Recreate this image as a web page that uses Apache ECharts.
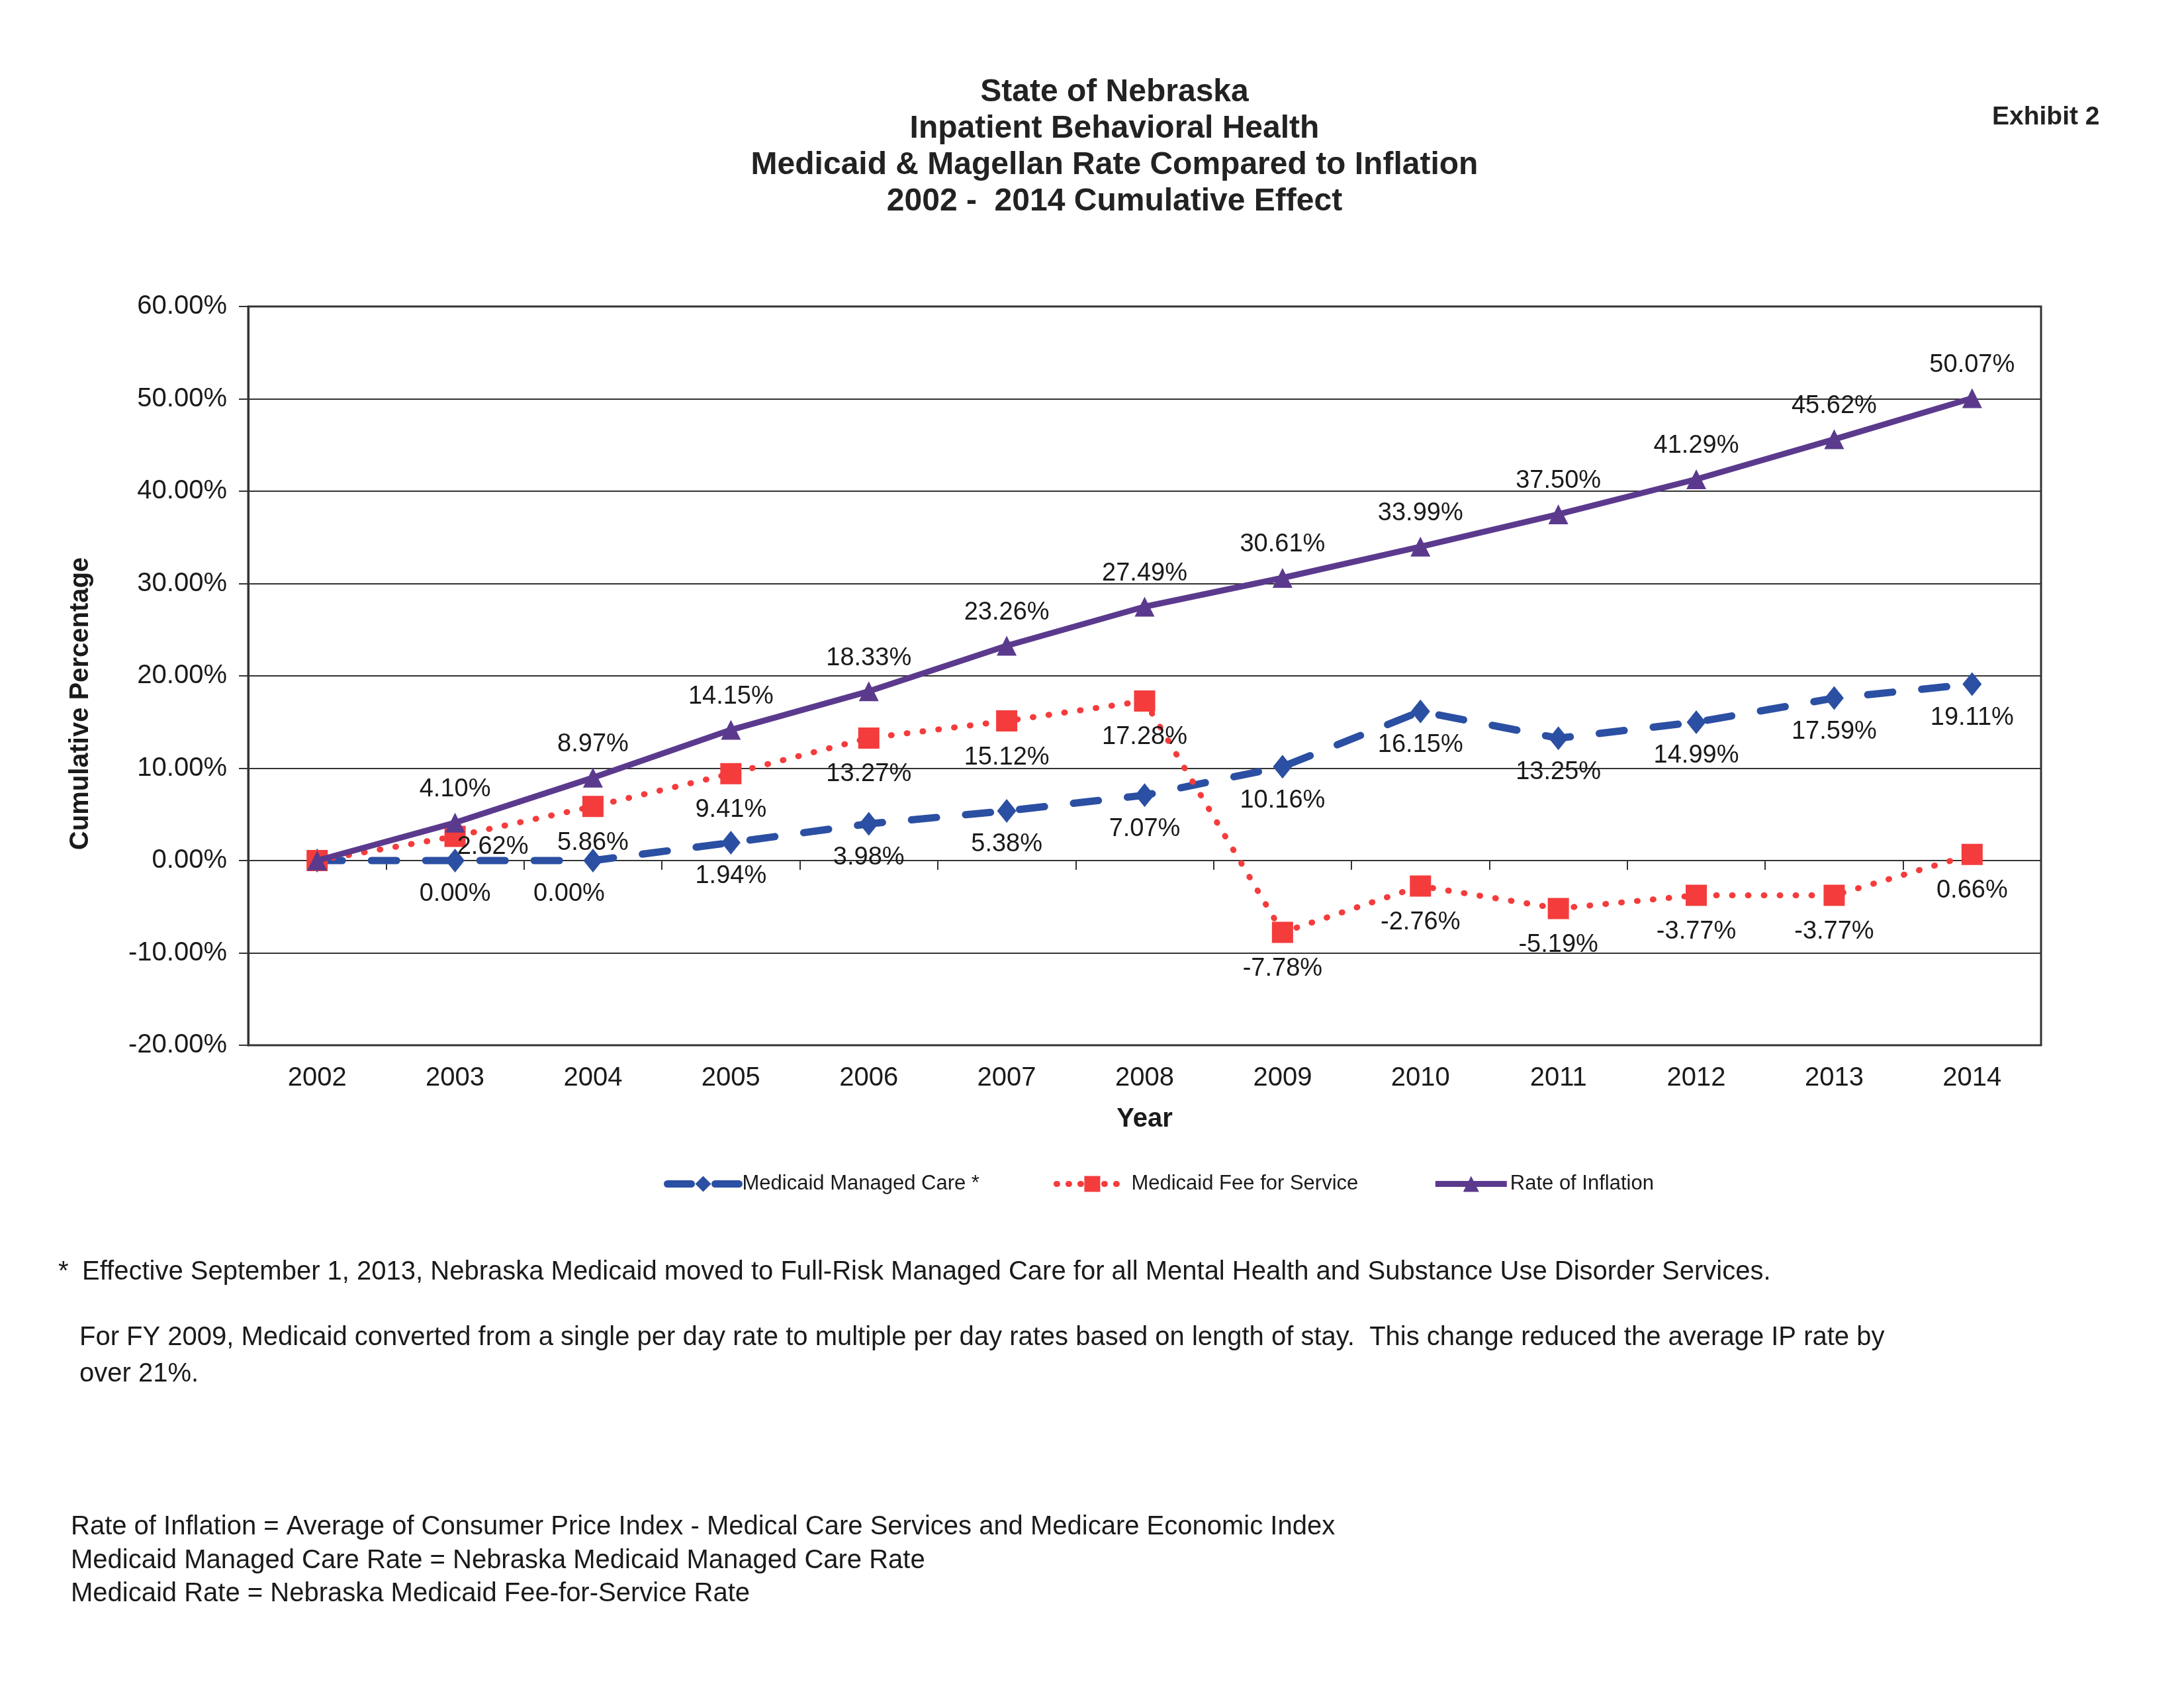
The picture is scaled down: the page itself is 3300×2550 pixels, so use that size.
<!DOCTYPE html>
<html>
<head>
<meta charset="utf-8">
<script src="https://cdn.jsdelivr.net/npm/echarts@6/dist/echarts.min.js"></script>
<style>
  html, body { margin: 0; padding: 0; background: #ffffff; }
  #chart { width: 3300px; height: 2550px; }
</style>
</head>
<body>
<div id="chart"></div>
<script>
const years = ['2002','2003','2004','2005','2006','2007','2008','2009','2010','2011','2012','2013','2014'];
const managedCare = [0, 0.00, 0.00, 1.94, 3.98, 5.38, 7.07, 10.16, 16.15, 13.25, 14.99, 17.59, 19.11];
const feeForService = [0, 2.62, 5.86, 9.41, 13.27, 15.12, 17.28, -7.78, -2.76, -5.19, -3.77, -3.77, 0.66];
const inflation = [0, 4.10, 8.97, 14.15, 18.33, 23.26, 27.49, 30.61, 33.99, 37.50, 41.29, 45.62, 50.07];
const yTicks = { min: -20, max: 60, interval: 10 };
const seriesNames = ['Medicaid Managed Care *', 'Medicaid Fee for Service', 'Rate of Inflation'];

const FONT = '"Liberation Sans", Arial, sans-serif';
const TXT = '#1a1a1a';
const C_MC = '#2B4FA2', C_FFS = '#F43C3C', C_INF = '#5B3A8E';

function pctLabel(p) {
  return p.dataIndex === 0 ? '' : Number(p.value).toFixed(2) + '%';
}

const mcData = managedCare.map((v, i) => i === 2 ? { value: v, label: { offset: [-36, 0] } } : v);
const ffsData = feeForService.map((v, i) => i === 1 ? { value: v, label: { offset: [57, -39] } } : v);

const chart = echarts.init(document.getElementById('chart'), null, { renderer: 'canvas' });

const option = {
  backgroundColor: '#ffffff',
  animation: false,
  textStyle: { fontFamily: FONT, color: TXT },
  title: {
    text: 'State of Nebraska\nInpatient Behavioral Health\nMedicaid & Magellan Rate Compared to Inflation\n2002 -  2014 Cumulative Effect',
    left: 1679,
    top: 107,
    textAlign: 'center',
    textStyle: { fontFamily: FONT, fontSize: 48, fontWeight: 'bold', color: '#222', lineHeight: 55 }
  },
  legend: {
    data: [
      { name: seriesNames[0], lineStyle: { width: 11, type: [36, 36], cap: 'round', color: C_MC } },
      { name: seriesNames[1], lineStyle: { width: 9, type: [1, 17], cap: 'round', color: C_FFS } },
      { name: seriesNames[2], lineStyle: { width: 9, type: 'solid', color: C_INF } }
    ],
    left: 998,
    top: 1768,
    itemWidth: 108,
    itemHeight: 30,
    itemGap: 112,
    textStyle: { fontFamily: FONT, fontSize: 31, color: TXT }
  },
  grid: {
    left: 375, right: 216, top: 463, bottom: 971,
    show: true, borderColor: '#333', borderWidth: 3, backgroundColor: 'transparent'
  },
  xAxis: [
    {
      type: 'category',
      data: years,
      boundaryGap: true,
      position: 'bottom',
      axisLine: { show: false, onZero: false },
      axisTick: { show: false },
      axisLabel: { fontFamily: FONT, fontSize: 40, color: TXT, margin: 30 },
      name: 'Year',
      nameLocation: 'middle',
      nameGap: 92,
      nameTextStyle: { fontFamily: FONT, fontSize: 40, fontWeight: 'bold', color: TXT }
    },
    {
      type: 'category',
      data: years,
      boundaryGap: true,
      position: 'bottom',
      axisLine: { show: true, onZero: true, lineStyle: { color: '#333', width: 2 } },
      axisTick: { show: true, length: 14, lineStyle: { color: '#333', width: 2 } },
      axisLabel: { show: false }
    }
  ],
  yAxis: {
    type: 'value',
    min: yTicks.min, max: yTicks.max, interval: yTicks.interval,
    axisLine: { show: true, lineStyle: { color: '#333', width: 3 } },
    axisTick: { show: true, length: 14, lineStyle: { color: '#333', width: 2 } },
    splitLine: { show: true, lineStyle: { color: '#333', width: 2 } },
    axisLabel: {
      fontFamily: FONT, fontSize: 40, color: TXT, margin: 32,
      formatter: v => v.toFixed(2) + '%'
    }
  },
  series: [
    {
      name: seriesNames[0],
      type: 'line',
      data: mcData,
      xAxisIndex: 0,
      symbol: 'diamond',
      symbolSize: [29, 36],
      itemStyle: { color: C_MC },
      lineStyle: { color: C_MC, width: 11, type: [38, 44], cap: 'round' },
      label: {
        show: true, position: 'bottom', distance: 14,
        fontFamily: FONT, fontSize: 38, color: TXT,
        formatter: pctLabel
      },
      z: 2
    },
    {
      name: seriesNames[1],
      type: 'line',
      data: ffsData,
      xAxisIndex: 0,
      symbol: 'rect',
      symbolSize: 32,
      itemStyle: { color: C_FFS },
      lineStyle: { color: C_FFS, width: 9, type: [1, 23], cap: 'round' },
      label: {
        show: true, position: 'bottom', distance: 20,
        fontFamily: FONT, fontSize: 38, color: TXT,
        formatter: pctLabel
      },
      z: 3
    },
    {
      name: seriesNames[2],
      type: 'line',
      data: inflation,
      xAxisIndex: 0,
      symbol: 'triangle',
      symbolSize: 30,
      itemStyle: { color: C_INF },
      lineStyle: { color: C_INF, width: 9 },
      label: {
        show: true, position: 'top', distance: 16,
        fontFamily: FONT, fontSize: 38, color: TXT,
        formatter: pctLabel
      },
      z: 4
    }
  ],
  graphic: [
    {
      type: 'text', left: 3010, top: 158,
      style: { text: 'Exhibit 2', font: 'bold 39px ' + FONT, fill: '#222' }
    },
    {
      type: 'text', x: 122, y: 1063, rotation: Math.PI / 2,
      style: { text: 'Cumulative Percentage', font: 'bold 40px ' + FONT, fill: TXT, align: 'center', verticalAlign: 'middle' }
    },
    {
      type: 'text', x: 88, y: 1922,
      style: { text: '*', font: '40px ' + FONT, fill: TXT, verticalAlign: 'middle' }
    },
    {
      type: 'text', x: 124, y: 1922,
      style: { text: 'Effective September 1, 2013, Nebraska Medicaid moved to Full-Risk Managed Care for all Mental Health and Substance Use Disorder Services.', font: '40px ' + FONT, fill: TXT, verticalAlign: 'middle' }
    },
    {
      type: 'text', x: 120, y: 2021,
      style: { text: 'For FY 2009, Medicaid converted from a single per day rate to multiple per day rates based on length of stay.  This change reduced the average IP rate by', font: '40px ' + FONT, fill: TXT, verticalAlign: 'middle' }
    },
    {
      type: 'text', x: 120, y: 2076,
      style: { text: 'over 21%.', font: '40px ' + FONT, fill: TXT, verticalAlign: 'middle' }
    },
    {
      type: 'text', x: 107, y: 2307,
      style: { text: 'Rate of Inflation = Average of Consumer Price Index - Medical Care Services and Medicare Economic Index', font: '40px ' + FONT, fill: TXT, verticalAlign: 'middle' }
    },
    {
      type: 'text', x: 107, y: 2358,
      style: { text: 'Medicaid Managed Care Rate = Nebraska Medicaid Managed Care Rate', font: '40px ' + FONT, fill: TXT, verticalAlign: 'middle' }
    },
    {
      type: 'text', x: 107, y: 2408,
      style: { text: 'Medicaid Rate = Nebraska Medicaid Fee-for-Service Rate', font: '40px ' + FONT, fill: TXT, verticalAlign: 'middle' }
    }
  ]
};

chart.setOption(option);
</script>
</body>
</html>
